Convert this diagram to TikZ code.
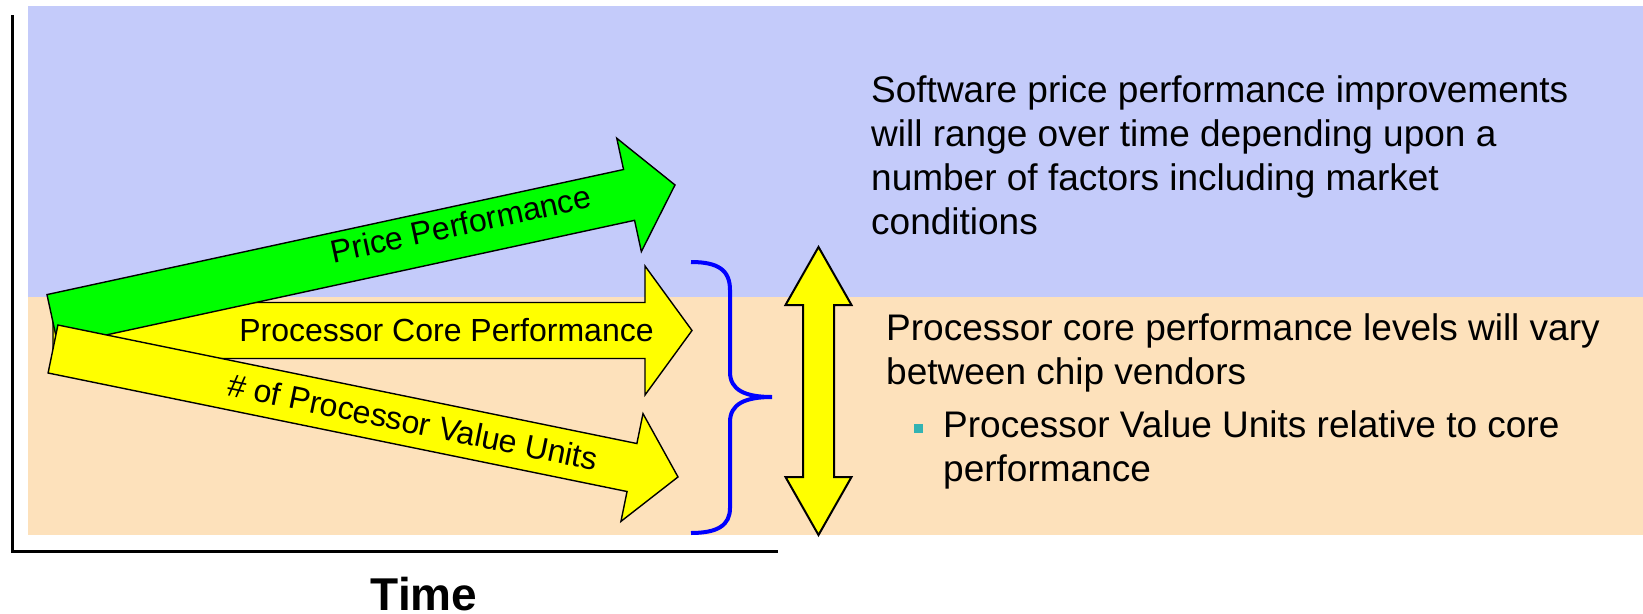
\documentclass[tikz,border=0pt]{standalone}
\usepackage{fontspec}
\setmainfont{Liberation Sans}
\usetikzlibrary{positioning}
\definecolor{SkyBand}{HTML}{C4CBFA}
\definecolor{PeachBand}{HTML}{FDE1BB}
\definecolor{ArrGreen}{HTML}{00FF00}
\definecolor{ArrYellow}{HTML}{FFFF00}
\definecolor{BraceBlue}{HTML}{0000FF}
\definecolor{BulletTeal}{HTML}{33B3B3}

\begin{document}
\begin{tikzpicture}[x=1pt,y=-1pt]
\tikzstyle{fat}=[draw=black,line width=1.4pt,line join=miter]
\tikzstyle{lbl}=[inner sep=0pt,font=\fontsize{32}{38}\selectfont]
\tikzstyle{note}=[inner sep=0pt,align=left,anchor=north west,font=\fontsize{37}{44}\selectfont]
\useasboundingbox (0,0) rectangle (1643,613);
\fill[white] (0,0) rectangle (1643,613);
% bands
\fill[SkyBand] (28,6) rectangle (1643,297);
\fill[PeachBand] (28,297) rectangle (1643,535);
% axes
\coordinate (origin) at (12.5,551);
\draw[line width=3pt] (12.5,15) -- (origin) -- (778,551);
\node[font=\fontsize{46}{50}\selectfont\bfseries,anchor=base,inner sep=0pt] (timelbl) at (424,610) {Time};
% the three growth arrows
\begin{scope}[shift={(53,330.5)}]
\draw[fat,fill=ArrYellow] (0,-28) -- (592,-28) -- (592,-64.5) -- (639,0) -- (592,64.5) -- (592,28) -- (0,28) -- cycle;
\end{scope}
\begin{scope}[shift={(52.5,320)},rotate=12.24]
\draw[fat,fill=ArrGreen] (0,-26) -- (590,-26) -- (590,-58) -- (637,0) -- (590,58) -- (590,26) -- (0,26) -- cycle;
\end{scope}
\begin{scope}[shift={(53,349)},rotate=-11.57]
\draw[fat,fill=ArrYellow] (0,-24.5) -- (591,-24.5) -- (591,-55) -- (638,0) -- (591,55) -- (591,24.5) -- (0,24.5) -- cycle;
\end{scope}
\node[lbl] (corelbl) at (446.5,330) {Processor Core Performance};
\node[lbl,rotate=12.24] (pricelbl) at (461,224) {Price Performance};
\node[lbl,rotate=-11.57] (pvulbl) at (413,422) {\# of Processor Value Units};
% brace and range arrow
\draw[BraceBlue,line width=4pt] (691,262) .. controls (718,262) and (730,270) .. (730,290) -- (730,372)
  .. controls (730,390) and (745,397) .. (772,397) .. controls (745,397) and (730,404) .. (730,422)
  -- (730,508) .. controls (730,525) and (718,533) .. (691,533);
\draw[fat,line width=2pt,fill=ArrYellow] (818.5,247) -- (851.5,305) -- (834,305) -- (834,477) -- (851.5,477)
  -- (818.5,535) -- (785.5,477) -- (803,477) -- (803,305) -- (785.5,305) -- cycle;
% notes
\node[note] (swnote) at (871,75) {Software price performance improvements\\will range over time depending upon a\\number of factors including market\\conditions};
\node[note] (corenote) at (886,313) {Processor core performance levels will vary\\between chip vendors};
\node[fill=BulletTeal,minimum size=9pt,inner sep=0pt] (dot) at (918,428) {};
\node[note] (pvunote) at (943,410) {Processor Value Units relative to core\\performance};
\end{tikzpicture}
\end{document}
